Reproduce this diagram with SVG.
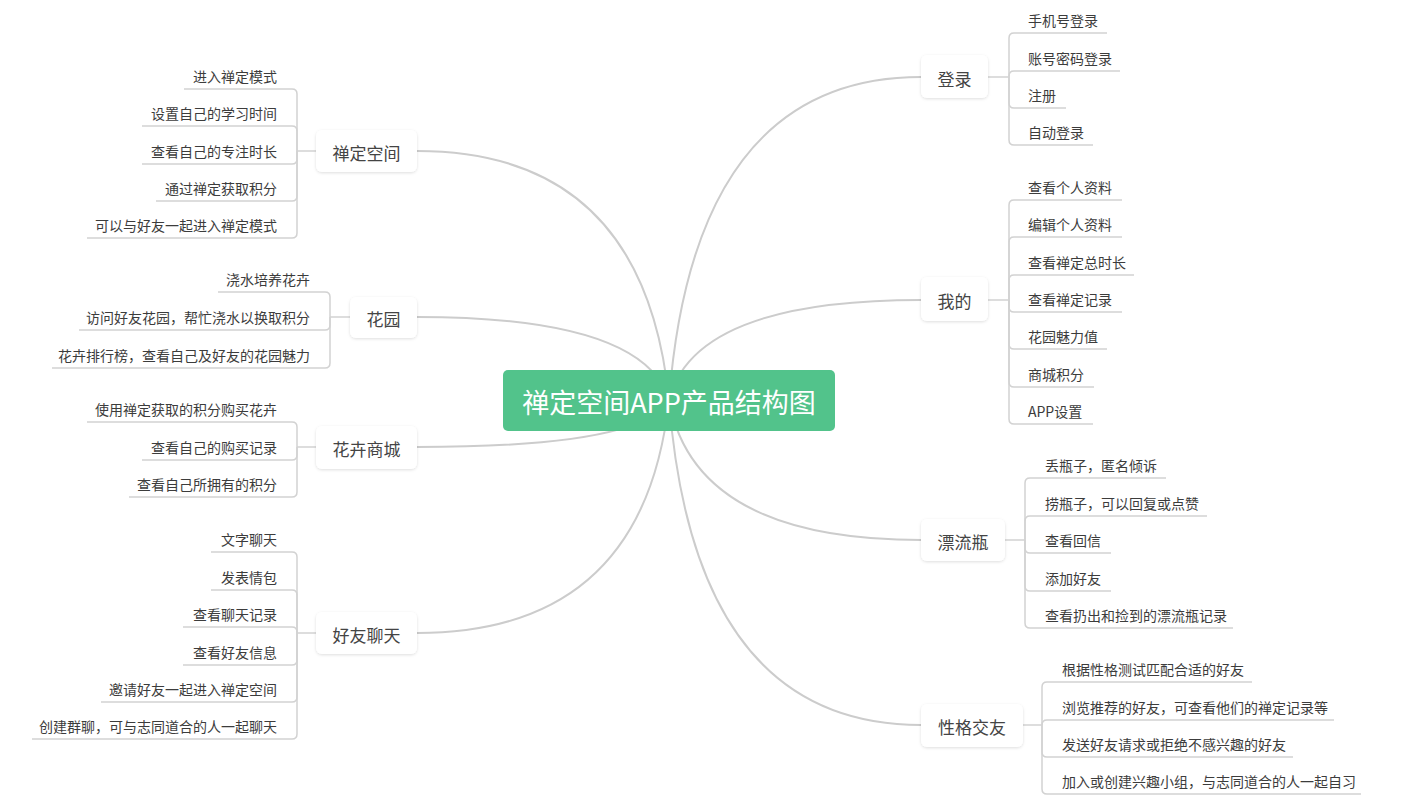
<svg xmlns="http://www.w3.org/2000/svg" width="1401" height="802" viewBox="0 0 1401 802">
<defs>
<filter id="sh" x="-20%" y="-30%" width="140%" height="160%">
<feDropShadow dx="0" dy="1" stdDeviation="1.5" flood-color="#000" flood-opacity="0.13"/>
</filter>
<style>
.curve{fill:none;stroke:#cccccc;stroke-width:2}
.leafline{fill:none;stroke:#d2d2d2;stroke-width:1.5}
.box{fill:#ffffff;filter:url(#sh)}
.ntext{font-family:"Noto Sans CJK SC","Microsoft YaHei",sans-serif;font-size:17px;fill:#444444;text-anchor:middle;dominant-baseline:central}
.lt{font-family:"Noto Sans CJK SC","Microsoft YaHei",sans-serif;font-size:14px;fill:#3c3c3c;dominant-baseline:central}
.r{text-anchor:start}
.l{text-anchor:end}
.root{fill:#52c38b}
.rtext{font-family:"Noto Sans CJK SC","Microsoft YaHei",sans-serif;font-size:27px;fill:#ffffff;text-anchor:middle;dominant-baseline:central}
</style>
</defs>
<rect width="1401" height="802" fill="#ffffff"/>
<g id="connectors">
<path class="curve" d="M669,400 Q644,151 417,151"/>
<path class="curve" d="M669,400 Q644,317 417,317"/>
<path class="curve" d="M669,400 Q644,447 417,447"/>
<path class="curve" d="M669,400 Q644,633 417,633"/>
<path class="curve" d="M669,400 Q694,77 921,77"/>
<path class="curve" d="M669,400 Q694,300 921,300"/>
<path class="curve" d="M669,400 Q694,540 921,540"/>
<path class="curve" d="M669,400 Q694,725 921,725"/>
<!-- 登录 -->
<path class="leafline" d="M988,77 H1009"/>
<path class="leafline" d="M1009,77 V38 Q1009,33 1014,33 H1107"/>
<path class="leafline" d="M1009,77 V76 Q1009,71 1014,71 H1120"/>
<path class="leafline" d="M1009,77 V103 Q1009,108 1014,108 H1066"/>
<path class="leafline" d="M1009,77 V140 Q1009,145 1014,145 H1093"/>
<!-- 我的 -->
<path class="leafline" d="M988,300 H1009"/>
<path class="leafline" d="M1009,300 V205 Q1009,200 1014,200 H1122"/>
<path class="leafline" d="M1009,300 V242 Q1009,237 1014,237 H1122"/>
<path class="leafline" d="M1009,300 V280 Q1009,275 1014,275 H1134"/>
<path class="leafline" d="M1009,300 V307 Q1009,312 1014,312 H1122"/>
<path class="leafline" d="M1009,300 V344 Q1009,349 1014,349 H1107"/>
<path class="leafline" d="M1009,300 V382 Q1009,387 1014,387 H1094"/>
<path class="leafline" d="M1009,300 V419 Q1009,424 1014,424 H1093"/>
<!-- 漂流瓶 -->
<path class="leafline" d="M1005,540 H1025"/>
<path class="leafline" d="M1025,540 V483 Q1025,478 1030,478 H1166"/>
<path class="leafline" d="M1025,540 V521 Q1025,516 1030,516 H1207"/>
<path class="leafline" d="M1025,540 V548 Q1025,553 1030,553 H1111"/>
<path class="leafline" d="M1025,540 V586 Q1025,591 1030,591 H1111"/>
<path class="leafline" d="M1025,540 V623 Q1025,628 1030,628 H1233"/>
<!-- 性格交友 -->
<path class="leafline" d="M1023,725 H1042"/>
<path class="leafline" d="M1042,725 V687 Q1042,682 1047,682 H1252"/>
<path class="leafline" d="M1042,725 Q1042,720 1047,720 H1334"/>
<path class="leafline" d="M1042,725 V752 Q1042,757 1047,757 H1293"/>
<path class="leafline" d="M1042,725 V789 Q1042,794 1047,794 H1361"/>
<!-- 禅定空间 -->
<path class="leafline" d="M316,151 H297"/>
<path class="leafline" d="M297,151 V94 Q297,89 292,89 H184"/>
<path class="leafline" d="M297,151 V131 Q297,126 292,126 H142"/>
<path class="leafline" d="M297,151 V159 Q297,164 292,164 H142"/>
<path class="leafline" d="M297,151 V196 Q297,201 292,201 H156"/>
<path class="leafline" d="M297,151 V233 Q297,238 292,238 H87"/>
<!-- 花园 -->
<path class="leafline" d="M350,317 H330"/>
<path class="leafline" d="M330,317 V297 Q330,292 325,292 H218"/>
<path class="leafline" d="M330,317 V325 Q330,330 325,330 H79"/>
<path class="leafline" d="M330,317 V363 Q330,368 325,368 H52"/>
<!-- 花卉商城 -->
<path class="leafline" d="M316,447 H297"/>
<path class="leafline" d="M297,447 V427 Q297,422 292,422 H87"/>
<path class="leafline" d="M297,447 V455 Q297,460 292,460 H142"/>
<path class="leafline" d="M297,447 V492 Q297,497 292,497 H129"/>
<!-- 好友聊天 -->
<path class="leafline" d="M316,633 H297"/>
<path class="leafline" d="M297,633 V557 Q297,552 292,552 H211"/>
<path class="leafline" d="M297,633 V595 Q297,590 292,590 H211"/>
<path class="leafline" d="M297,633 V632 Q297,627 292,627 H183"/>
<path class="leafline" d="M297,633 V660 Q297,665 292,665 H183"/>
<path class="leafline" d="M297,633 V697 Q297,702 292,702 H101"/>
<path class="leafline" d="M297,633 V734 Q297,739 292,739 H32"/>
</g>
<g id="root">
<rect class="root" x="503" y="370" width="332" height="61" rx="5"/>
<text class="rtext" x="669" y="401">禅定空间APP产品结构图</text>
</g>
<g id="node-chanding">
<rect class="box" x="316" y="130" width="101" height="42" rx="6"/>
<text class="ntext" x="366.5" y="152">禅定空间</text>
<text class="lt l" x="277" y="76">进入禅定模式</text>
<text class="lt l" x="277" y="113">设置自己的学习时间</text>
<text class="lt l" x="277" y="151">查看自己的专注时长</text>
<text class="lt l" x="277" y="188">通过禅定获取积分</text>
<text class="lt l" x="277" y="225">可以与好友一起进入禅定模式</text>
</g>
<g id="node-huayuan">
<rect class="box" x="350" y="297" width="67" height="41" rx="6"/>
<text class="ntext" x="383.5" y="318">花园</text>
<text class="lt l" x="310" y="279">浇水培养花卉</text>
<text class="lt l" x="310" y="317">访问好友花园，帮忙浇水以换取积分</text>
<text class="lt l" x="310" y="355">花卉排行榜，查看自己及好友的花园魅力</text>
</g>
<g id="node-shangcheng">
<rect class="box" x="316" y="426" width="101" height="43" rx="6"/>
<text class="ntext" x="366.5" y="448">花卉商城</text>
<text class="lt l" x="277" y="409">使用禅定获取的积分购买花卉</text>
<text class="lt l" x="277" y="447">查看自己的购买记录</text>
<text class="lt l" x="277" y="484">查看自己所拥有的积分</text>
</g>
<g id="node-liaotian">
<rect class="box" x="316" y="612" width="101" height="42" rx="6"/>
<text class="ntext" x="366.5" y="634">好友聊天</text>
<text class="lt l" x="277" y="539">文字聊天</text>
<text class="lt l" x="277" y="577">发表情包</text>
<text class="lt l" x="277" y="614">查看聊天记录</text>
<text class="lt l" x="277" y="652">查看好友信息</text>
<text class="lt l" x="277" y="689">邀请好友一起进入禅定空间</text>
<text class="lt l" x="277" y="726">创建群聊，可与志同道合的人一起聊天</text>
</g>
<g id="node-denglu">
<rect class="box" x="921" y="55" width="67" height="43" rx="6"/>
<text class="ntext" x="954.5" y="78">登录</text>
<text class="lt r" x="1028" y="20">手机号登录</text>
<text class="lt r" x="1028" y="58">账号密码登录</text>
<text class="lt r" x="1028" y="95">注册</text>
<text class="lt r" x="1028" y="132">自动登录</text>
</g>
<g id="node-wode">
<rect class="box" x="921" y="277" width="67" height="44" rx="6"/>
<text class="ntext" x="954.5" y="300">我的</text>
<text class="lt r" x="1028" y="187">查看个人资料</text>
<text class="lt r" x="1028" y="224">编辑个人资料</text>
<text class="lt r" x="1028" y="262">查看禅定总时长</text>
<text class="lt r" x="1028" y="299">查看禅定记录</text>
<text class="lt r" x="1028" y="336">花园魅力值</text>
<text class="lt r" x="1028" y="374">商城积分</text>
<text class="lt r" x="1028" y="411">APP设置</text>
</g>
<g id="node-piaoliuping">
<rect class="box" x="921" y="519" width="84" height="42" rx="6"/>
<text class="ntext" x="963" y="541">漂流瓶</text>
<text class="lt r" x="1045" y="465">丢瓶子，匿名倾诉</text>
<text class="lt r" x="1045" y="503">捞瓶子，可以回复或点赞</text>
<text class="lt r" x="1045" y="540">查看回信</text>
<text class="lt r" x="1045" y="578">添加好友</text>
<text class="lt r" x="1045" y="615">查看扔出和捡到的漂流瓶记录</text>
</g>
<g id="node-xingge">
<rect class="box" x="921" y="704" width="102" height="43" rx="6"/>
<text class="ntext" x="972" y="726">性格交友</text>
<text class="lt r" x="1062" y="669">根据性格测试匹配合适的好友</text>
<text class="lt r" x="1062" y="707">浏览推荐的好友，可查看他们的禅定记录等</text>
<text class="lt r" x="1062" y="744">发送好友请求或拒绝不感兴趣的好友</text>
<text class="lt r" x="1062" y="781">加入或创建兴趣小组，与志同道合的人一起自习</text>
</g>
</svg>
